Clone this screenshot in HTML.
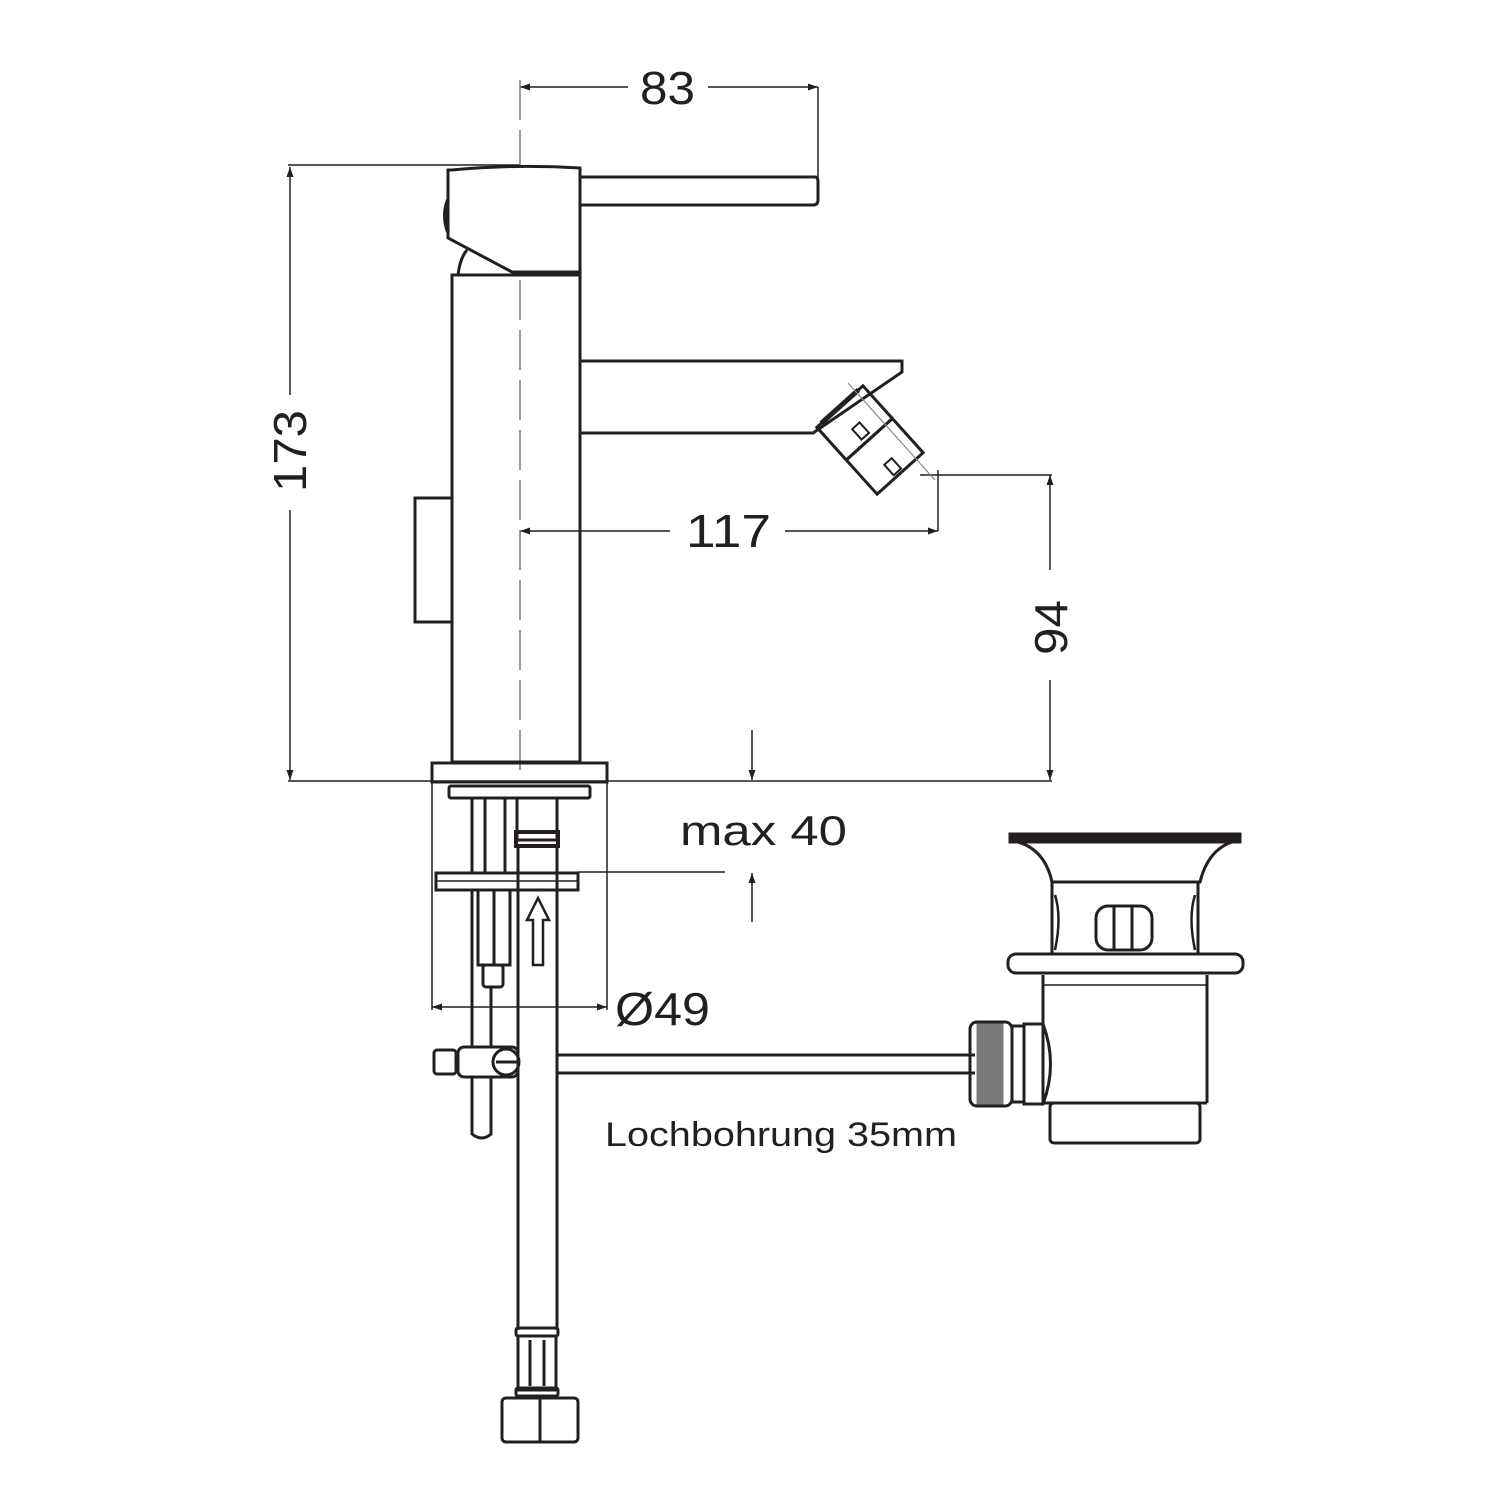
<!DOCTYPE html>
<html><head><style>
html,body{margin:0;padding:0;background:#fff}
svg{display:block}
text{font-family:"Liberation Sans",sans-serif;fill:#231f20}
</style></head><body>
<svg width="1500" height="1500" viewBox="0 0 1500 1500" xmlns="http://www.w3.org/2000/svg">
<defs>
<marker id="a" viewBox="0 0 10 10" refX="10" refY="5" markerWidth="14" markerHeight="10" markerUnits="userSpaceOnUse" orient="auto-start-reverse"><path d="M0,1.5 L10,5 L0,8.5 z" fill="#231f20"/></marker>
</defs>
<g stroke="#231f20" fill="none">
<g stroke-width="1.5">
<line x1="520" y1="87" x2="628" y2="87" marker-start="url(#a)"/>
<line x1="708" y1="87" x2="818" y2="87" marker-end="url(#a)"/>
<line x1="818" y1="87" x2="818" y2="178"/>
<line x1="288" y1="165" x2="520" y2="165"/>
<line x1="290" y1="167" x2="290" y2="395" marker-start="url(#a)"/>
<line x1="290" y1="510" x2="290" y2="780" marker-end="url(#a)"/>
<line x1="288" y1="781" x2="1052" y2="781"/>
<line x1="520" y1="531" x2="670" y2="531" marker-start="url(#a)"/>
<line x1="785" y1="531" x2="938" y2="531" marker-end="url(#a)"/>
<line x1="938" y1="470" x2="938" y2="531"/>
<line x1="920" y1="475" x2="1052" y2="475"/>
<line x1="1050" y1="475" x2="1050" y2="570" marker-start="url(#a)"/>
<line x1="1050" y1="680" x2="1050" y2="780" marker-end="url(#a)"/>
<line x1="752" y1="730" x2="752" y2="780" marker-end="url(#a)"/>
<line x1="752" y1="922" x2="752" y2="873" marker-end="url(#a)"/>
<line x1="578" y1="872" x2="725" y2="872"/>
<line x1="432" y1="782" x2="432" y2="1010"/>
<line x1="607" y1="782" x2="607" y2="1010"/>
<line x1="432" y1="1007" x2="607" y2="1007" marker-start="url(#a)" marker-end="url(#a)"/>
<line x1="520" y1="80" x2="520" y2="780" stroke-dasharray="40,10" stroke="#777"/>
</g>
<g stroke-width="3">
<path d="M452,170 Q515,164 580,168 L580,272 L512,272 L448,238 L448,170 Z" fill="#fff"/>
<path d="M448,200 Q442,215 448,232" stroke-width="4"/>
<path d="M458,275 Q460,258 467,250"/>
<path d="M580,177 L815,177 Q818,177 818,182 L818,200 Q818,205 813,205 L580,205"/>
<rect x="452" y="275" width="128" height="487"/>
<rect x="415" y="498" width="37" height="124"/>
<path d="M580,361 L902,361 L902,372 L813,433 L580,433"/>
<g transform="translate(870,440) rotate(48)">
<rect x="-45" y="-31" width="44" height="62"/>
<rect x="-1" y="-31" width="46" height="62"/>
<line x1="-45" y1="-25" x2="-45" y2="25" stroke-width="5"/>
<rect x="-20" y="-4" width="14" height="10" stroke-width="2"/>
<rect x="28" y="-4" width="14" height="10" stroke-width="2"/>
</g>
<g stroke="#888" stroke-width="1.2"><line x1="848" y1="383" x2="935" y2="480"/></g>
<rect x="432" y="763" width="175" height="19"/>
<rect x="449" y="786" width="141" height="12" rx="2"/>
<rect x="436" y="873" width="142" height="17"/>
<line x1="436" y1="881" x2="578" y2="881" stroke-width="1.5"/>
<line x1="472" y1="798" x2="472" y2="873"/>
<line x1="485" y1="798" x2="485" y2="873"/>
<line x1="505" y1="798" x2="505" y2="873"/>
<rect x="517" y="798" width="40" height="42"/>
<rect x="516" y="832" width="42" height="14" stroke-width="4"/>
<rect x="478" y="890" width="32" height="75"/>
<line x1="494" y1="890" x2="494" y2="965"/>
<rect x="483" y="965" width="20" height="22" rx="3"/>
<path d="M472,890 L472,1134 Q482,1142 491,1134 L491,987"/>
<path d="M533,965 L533,920 L527,920 L538,898 L549,920 L543,920 L543,965 Z" stroke-width="2.5"/>
<line x1="518" y1="846" x2="518" y2="1330"/>
<line x1="557" y1="846" x2="557" y2="1330"/>
<rect x="434" y="1050" width="22" height="24" rx="3"/>
<rect x="458" y="1047" width="60" height="30" rx="6" fill="#fff"/>
<circle cx="506" cy="1062" r="13"/>
<line x1="496" y1="1062" x2="519" y2="1062"/>
<line x1="557" y1="1055" x2="975" y2="1055"/>
<line x1="557" y1="1073" x2="975" y2="1073"/>
<rect x="516" y="1328" width="42" height="8" rx="2"/>
<rect x="518" y="1336" width="38" height="54"/>
<line x1="530" y1="1340" x2="530" y2="1386"/>
<line x1="544" y1="1340" x2="544" y2="1386"/>
<rect x="516" y="1388" width="42" height="8" rx="2"/>
<rect x="502" y="1398" width="76" height="44" rx="4"/>
<line x1="540" y1="1398" x2="540" y2="1442"/>
<rect x="1010" y="834" width="230" height="8" fill="#231f20"/>
<path d="M1018,842 Q1045,850 1052,882 L1200,882 Q1208,850 1232,842"/>
<line x1="1052" y1="882" x2="1052" y2="953"/>
<line x1="1198" y1="882" x2="1198" y2="953"/>
<path d="M1055,895 Q1062,917 1055,950 M1195,895 Q1188,917 1195,950" stroke-width="2.5"/>
<rect x="1096" y="906" width="56" height="44" rx="12"/>
<line x1="1114" y1="906" x2="1114" y2="950"/>
<line x1="1132" y1="906" x2="1132" y2="950"/>
<rect x="1008" y="954" width="235" height="19" rx="8"/>
<line x1="1043" y1="975" x2="1043" y2="1103"/>
<line x1="1207" y1="975" x2="1207" y2="1103"/>
<line x1="1043" y1="985" x2="1207" y2="985" stroke-width="1.5"/>
<line x1="1043" y1="1103" x2="1207" y2="1103"/>
<rect x="1050" y="1103" width="150" height="40" rx="4"/>
<rect x="970" y="1022" width="42" height="84" rx="7"/>
<rect x="978" y="1025" width="24" height="78" fill="#231f20" opacity="0.6"/>
<rect x="1012" y="1026" width="12" height="76"/>
<path d="M1024,1024 L1043,1024 Q1058,1064 1043,1104 L1024,1104 Z"/>
</g>
</g>
<text x="640" y="104" font-size="46" textLength="55" lengthAdjust="spacingAndGlyphs">83</text>
<text x="0" y="0" font-size="46" textLength="82" lengthAdjust="spacingAndGlyphs" transform="translate(306 492) rotate(-90)">173</text>
<text x="686" y="547" font-size="46" textLength="85" lengthAdjust="spacingAndGlyphs">117</text>
<text x="0" y="0" font-size="46" textLength="55" lengthAdjust="spacingAndGlyphs" transform="translate(1067 655) rotate(-90)">94</text>
<text x="680" y="845" font-size="42" textLength="167" lengthAdjust="spacingAndGlyphs">max 40</text>
<text x="615" y="1025" font-size="46" textLength="95" lengthAdjust="spacingAndGlyphs">Ø49</text>
<text x="605" y="1146" font-size="34" textLength="352" lengthAdjust="spacingAndGlyphs">Lochbohrung 35mm</text>
</svg>
</body></html>
